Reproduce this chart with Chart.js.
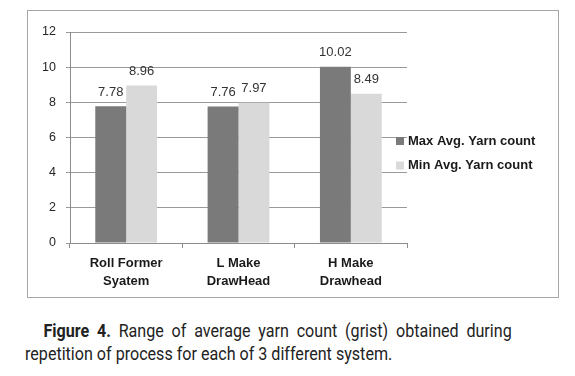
<!DOCTYPE html>
<html>
<head>
<meta charset="utf-8">
<script src="https://cdn.jsdelivr.net/npm/chart.js@4"></script>
<style>
  html, body { margin: 0; padding: 0; background: #fff; }
  body { width: 575px; height: 376px; position: relative; overflow: hidden; }
  #frame { position: absolute; left: 27px; top: 10px; width: 530px; height: 286px; border: 1px solid #a6a6a6; box-sizing: content-box; }
  #wrap { position: absolute; left: 0; top: 0; width: 575px; height: 300px; }
  #caption { position: absolute; left: 25px; top: 320px; width: 529px; transform: scaleX(0.92); transform-origin: 0 0; font-family: Roboto, "Liberation Sans", sans-serif; font-size: 17.5px; line-height: 23px; color: #222; text-align: justify; text-indent: 20px; }
  #caption b { font-weight: bold; }
</style>
</head>
<body>
<div id="frame"></div>
<div id="wrap"><canvas id="c" width="575" height="300"></canvas></div>
<div id="caption"><b>Figure 4.</b> Range of average yarn count (grist) obtained during repetition of process for each of 3 different system.</div>
<script>
const categories = [["Roll Former", "Syatem"], ["L Make", "DrawHead"], ["H Make", "Drawhead"]];
const seriesNames = ["Max Avg. Yarn count", "Min Avg. Yarn count"];
const maxAvg = [7.78, 7.76, 10.02];
const minAvg = [8.96, 7.97, 8.49];
const yTicks = [0, 2, 4, 6, 8, 10, 12];

const FONT = "'Liberation Sans', Arial, sans-serif";

const valueLabels = {
  id: 'valueLabels',
  afterDatasetsDraw(chart) {
    const ctx = chart.ctx;
    ctx.save();
    ctx.font = "13px " + FONT;
    ctx.fillStyle = '#333';
    ctx.textAlign = 'center';
    ctx.textBaseline = 'middle';
    chart.data.datasets.forEach((ds, i) => {
      const meta = chart.getDatasetMeta(i);
      meta.data.forEach((bar, j) => {
        ctx.fillText(ds.data[j].toFixed(2), bar.x, bar.y - 14);
      });
    });
    ctx.restore();
  }
};

const sideLegend = {
  id: 'sideLegend',
  afterDraw(chart) {
    const ctx = chart.ctx;
    ctx.save();
    ctx.font = "bold 13px " + FONT;
    ctx.textAlign = 'left';
    ctx.textBaseline = 'middle';
    chart.data.datasets.forEach((ds, i) => {
      const y = 141 + i * 24.5;
      ctx.fillStyle = ds.backgroundColor;
      ctx.fillRect(396, y - 4, 8, 8);
      ctx.fillStyle = '#1a1a1a';
      ctx.fillText(ds.label, 408, y);
    });
    ctx.restore();
  }
};

new Chart(document.getElementById('c'), {
  type: 'bar',
  data: {
    labels: categories,
    datasets: [
      { label: seriesNames[0], data: maxAvg, backgroundColor: '#7a7a7a' },
      { label: seriesNames[1], data: minAvg, backgroundColor: '#d9d9d9' }
    ]
  },
  options: {
    responsive: false,
    animation: false,
    devicePixelRatio: 1,
    layout: { padding: { left: 0, right: 168, top: 32, bottom: 0 } },
    datasets: { bar: { categoryPercentage: 0.55, barPercentage: 1.0 } },
    plugins: { legend: { display: false }, tooltip: { enabled: false } },
    scales: {
      x: {
        offset: true,
        grid: { display: true, drawOnChartArea: false, offset: true, tickLength: 5, color: '#8c8c8c' },
        border: { color: '#8c8c8c' },
        ticks: { font: { family: FONT, size: 13, weight: 'bold', lineHeight: 1.4 }, color: '#1a1a1a', padding: 6, maxRotation: 0 },
        afterFit(s) { s.height = 57; }
      },
      y: {
        min: 0, max: 12,
        afterBuildTicks(s) { s.ticks = yTicks.map(v => ({ value: v })); },
        grid: { color: '#9a9a9a', tickLength: 4 },
        border: { color: '#8c8c8c' },
        ticks: { font: { family: FONT, size: 12.5 }, color: '#262626', padding: 10 },
        afterFit(s) { s.width = 70; }
      }
    }
  },
  plugins: [valueLabels, sideLegend]
});
</script>
</body>
</html>
